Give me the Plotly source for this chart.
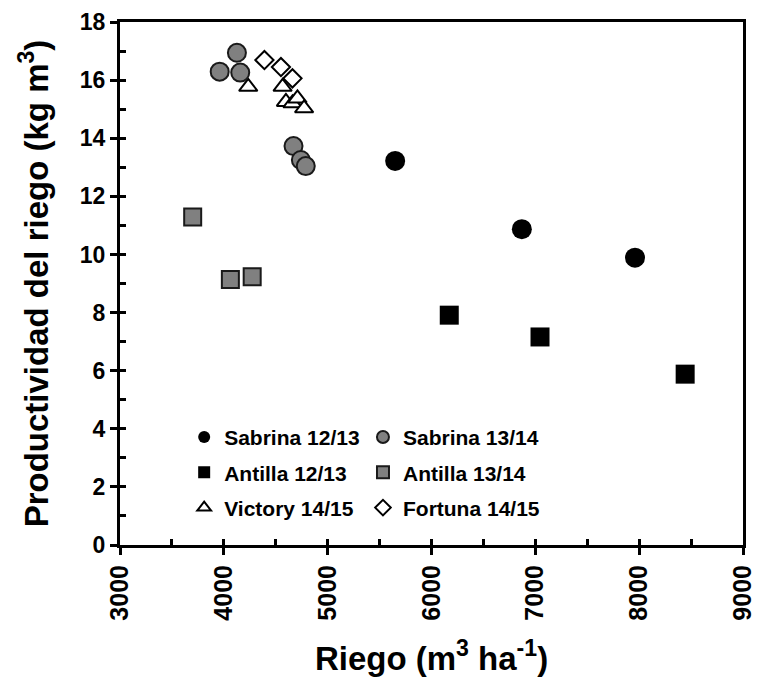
import plotly.graph_objects as go

# Data
sab1213_x = [5650, 6870, 7960]
sab1213_y = [13.22, 10.87, 9.89]

sab1314_x = [3960, 4126, 4158, 4671, 4742, 4789]
sab1314_y = [16.29, 16.94, 16.26, 13.73, 13.25, 13.04]

ant1213_x = [6171, 7045, 8443]
ant1213_y = [7.91, 7.16, 5.88]

ant1314_x = [3700, 4063, 4273]
ant1314_y = [11.29, 9.14, 9.23]

vic1415_x = [4235, 4566, 4598, 4661, 4709, 4773]
vic1415_y = [15.77, 15.77, 15.25, 15.20, 15.37, 15.03]

for1415_x = [4391, 4550, 4661]
for1415_y = [16.69, 16.45, 16.06]

FONT = "Liberation Sans"
GRAY = "#808080"

fig = go.Figure()

def add(name, x, y, symbol, size, color, lcolor, lwidth, legend, group):
    fig.add_trace(go.Scatter(
        x=x, y=y, mode="markers", name=name, legend=legend, legendgroup=group,
        marker=dict(symbol=symbol, size=size, color=color,
                    line=dict(color=lcolor, width=lwidth)),
    ))

add("Sabrina 12/13", sab1213_x, sab1213_y, "circle", 20, "black", "black", 0, "legend", "a")
add("Antilla 12/13", ant1213_x, ant1213_y, "square", 19, "black", "black", 0, "legend", "b")
add("Victory 14/15", vic1415_x, vic1415_y, "triangle-up", 16, "white", "black", 2, "legend", "c")
add("Sabrina 13/14", sab1314_x, sab1314_y, "circle", 18, GRAY, "#1a1a1a", 2, "legend2", "d")
add("Antilla 13/14", ant1314_x, ant1314_y, "square", 17, GRAY, "#1a1a1a", 2, "legend2", "e")
add("Fortuna 14/15", for1415_x, for1415_y, "diamond", 14, "white", "black", 2, "legend2", "f")

# empty trace to hold the overlay axes that draw the inside ticks
fig.add_trace(go.Scatter(x=[], y=[], xaxis="x2", yaxis="y2", showlegend=False))

legend_common = dict(
    font=dict(family=FONT, size=21, color="black", weight="bold"),
    bgcolor="rgba(0,0,0,0)", borderwidth=0, itemsizing="constant",
    tracegroupgap=5, xanchor="left", yanchor="top",
)

fig.update_layout(
    width=758, height=682,
    margin=dict(l=120, r=15, t=22, b=137),
    paper_bgcolor="white", plot_bgcolor="white",
    font=dict(family=FONT, color="black"),
    xaxis=dict(
        range=[3000, 9000], dtick=1000, tick0=3000,
        showgrid=False, zeroline=False, automargin=False,
        ticklabeloverflow="allow",
        showline=True, linecolor="black", linewidth=3, mirror=True,
        ticks="outside", ticklen=7, tickwidth=3, tickcolor="black",
        tickangle=-90,
        tickfont=dict(family=FONT, size=25, color="black", weight="bold"),
        title=dict(text="Riego (m<sup>3</sup> ha<sup>-1</sup>)",
                   font=dict(family=FONT, size=33, color="black", weight="bold"),
                   standoff=28),
    ),
    yaxis=dict(
        range=[0, 18], dtick=2, tick0=0,
        showgrid=False, zeroline=False, automargin=False,
        ticklabeloverflow="allow",
        showline=True, linecolor="black", linewidth=3, mirror=True,
        ticks="outside", ticklen=7, tickwidth=3, tickcolor="black",
        tickfont=dict(family=FONT, size=23, color="black", weight="bold"),
        title=dict(text="Productividad del riego (kg m<sup>3</sup>)",
                   font=dict(family=FONT, size=33, color="black", weight="bold"),
                   standoff=22),
    ),
    xaxis2=dict(
        overlaying="x", anchor="y", matches="x", range=[3000, 9000],
        dtick=500, tick0=3000, ticks="inside", ticklen=6, tickwidth=3,
        tickcolor="black", showticklabels=False, showgrid=False,
        zeroline=False, showline=False, automargin=False,
    ),
    yaxis2=dict(
        overlaying="y", anchor="x", matches="y", range=[0, 18],
        dtick=1, tick0=0, ticks="inside", ticklen=6, tickwidth=3,
        tickcolor="black", showticklabels=False, showgrid=False,
        zeroline=False, showline=False, automargin=False,
    ),
    legend=dict(x=0.103, y=0.245, **legend_common),
    legend2=dict(x=0.39, y=0.245, **legend_common),
)

fig.write_html("out.html")
